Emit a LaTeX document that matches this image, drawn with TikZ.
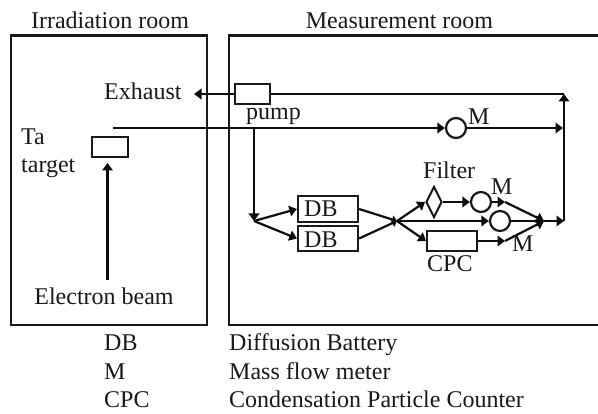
\documentclass[tikz,border=0pt]{standalone}
\usepackage{fontspec}
\setmainfont{Liberation Serif}
\usetikzlibrary{arrows.meta,shapes.geometric}
\tikzset{
  room/.style={draw=black!90,line width=2.2pt,inner sep=0pt},
  unit/.style={draw=black!90,line width=2.2pt,inner sep=0pt,fill=white},
  meter/.style={circle,draw=black!90,line width=2.2pt,minimum size=20pt,inner sep=0pt,fill=white},
  valve/.style={diamond,draw=black!90,line width=2pt,minimum width=16pt,minimum height=31pt,inner sep=0pt,fill=white,shape aspect=0.5},
  lab/.style={inner sep=0pt,font=\fontsize{24}{26}\selectfont,text=black!90},
  flow/.style={line width=2.2pt,draw=black!95},
  flowa/.style={flow,-{Triangle[length=7.5pt,width=10.5pt]}},
  flowb/.style={flow,-{Triangle[length=5pt,width=8pt]}}
}
\begin{document}
\begin{tikzpicture}[x=1pt,y=-1pt]
\useasboundingbox (0,0) rectangle (598,414);
\clip (0,0) rectangle (598,414);
% rooms
\node[room,draw,minimum width=196pt,minimum height=289.5pt,anchor=north west] (irr) at (9.7,34.5) {};
\node[room,draw,minimum width=400pt,minimum height=289.5pt,anchor=north west] (meas) at (227.5,34.5) {};
% titles and labels
\node[lab,anchor=base] (t1) at (110,29) {Irradiation room};
\node[lab,anchor=base] (t2) at (399.5,29) {Measurement room};
\node[lab,anchor=base west] (ex) at (104,100) {Exhaust};
\node[lab,anchor=base west] (pl) at (246,120) {pump};
\node[lab,anchor=base west] (ta1) at (21,145) {Ta};
\node[lab,anchor=base west] (ta2) at (21,173) {target};
\node[lab,anchor=base] (eb) at (104,305) {Electron beam};
% units
\node[unit,minimum width=35pt,minimum height=20pt] (pump) at (252.5,94) {};
\node[unit,minimum width=36pt,minimum height=20pt] (tt) at (110,147) {};
\node[meter] (m1) at (456,128) {};
\node[lab,anchor=base west] (m1l) at (468,125) {M};
\node[unit,minimum width=60pt,minimum height=26pt] (db1) at (328,209) {};
\node[unit,minimum width=60pt,minimum height=25pt] (db2) at (328,238.5) {};
\node[lab,anchor=base west] (db1l) at (304,217) {DB};
\node[lab,anchor=base west] (db2l) at (304,248) {DB};
\node[valve] (fil) at (434,202) {};
\node[meter] (m2) at (481,202) {};
\node[meter] (m3) at (500,221) {};
\node[unit,minimum width=50pt,minimum height=20pt] (cpc) at (452,241) {};
\node[lab,anchor=base west] (fl) at (423,179) {Filter};
\node[lab,anchor=base west] (m2l) at (491,195) {M};
\node[lab,anchor=base west] (m3l) at (512,252) {M};
\node[lab,anchor=base west] (cl) at (427,272) {CPC};
% legend
\node[lab,anchor=base west] (k1) at (104,351) {DB};
\node[lab,anchor=base west] (k2) at (104,380) {M};
\node[lab,anchor=base west] (k3) at (104,408) {CPC};
\node[lab,anchor=base west] (v1) at (229,351) {Diffusion Battery};
\node[lab,anchor=base west] (v2) at (229,380) {Mass flow meter};
\node[lab,anchor=base west] (v3) at (229,408) {Condensation Particle Counter};
% junctions
\coordinate (exh) at (194,94);
\coordinate (top) at (564,94);
\coordinate (tastart) at (113,128);
\coordinate (tee) at (254,128);
\coordinate (mid) at (563,128);
\coordinate (j1) at (254,221);
\coordinate (j2) at (397,221);
\coordinate (j3) at (544,221);
\coordinate (bot) at (564,221);
\coordinate (a1) at (505,202);
\coordinate (a2) at (505,241);
\coordinate (beam) at (107.5,280);
\coordinate (beamend) at (107.5,163);
% connectors
\draw[flowa] (pump.west) -- (exh);
\draw[flow] (pump.east) -- (top);
\draw[flowa] (bot) -- (top);
\draw[flowa] (tastart) -- (m1.west);
\draw[flowa] (m1.east) -- (mid);
\draw[flowa] (tee) -- (j1);
\draw[flowa] (j1) -- (db1.west);
\draw[flowa] (j1) -- (db2.west);
\draw[flowb] (db1.east) -- (j2);
\draw[flowb] (db2.east) -- (j2);
\draw[flowa] (j2) -- (fil.west);
\draw[flowa] (j2) -- (m3.west);
\draw[flowa] (j2) -- (cpc.west);
\draw[flowa] (fil.east) -- (m2.west);
\draw[flowa] (m2.east) -- (a1);
\draw[flowa] (cpc.east) -- (a2);
\draw[flowa] (a1) -- (j3);
\draw[flowa] (a2) -- (j3);
\draw[flowa] (m3.east) -- (j3);
\draw[flowa] (j3) -- (bot);
\draw[flowa] (beam) -- (beamend);
\end{tikzpicture}
\end{document}
